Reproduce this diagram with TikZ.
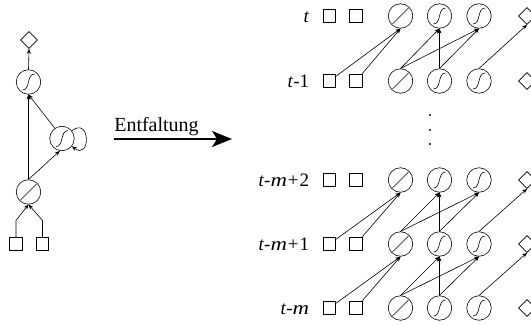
\documentclass[tikz,border=0pt]{standalone}
\usepackage{fontspec}
\setmainfont{Liberation Serif}
\usetikzlibrary{arrows.meta}
\usetikzlibrary{shapes.geometric}
\newcommand{\wm}{\scalebox{1.2}[1]{\textit{m}}}

\begin{document}
\begin{tikzpicture}[x=1pt,y=1pt,>={Stealth[length=5pt,width=4pt]},semithick]
	\tikzstyle{unit}=[circle,draw=black,minimum size=24.5pt,inner sep=0pt]
	\tikzstyle{lin}=[unit,path picture={\draw[shift={(path picture bounding box.center)}] (-8pt,-8pt) -- (8pt,8pt);}]
	\tikzstyle{sig}=[unit,path picture={\draw[shift={(path picture bounding box.center)}] (-6pt,-8pt) .. controls (2pt,-8pt) and (-2pt,8pt) .. (6pt,8pt);}]
	\tikzstyle{inp}=[rectangle,draw=black,minimum size=12.5pt,inner sep=0pt]
	\tikzstyle{outp}=[diamond,draw=black,minimum size=17pt,inner sep=0pt]
	\tikzstyle{tlab}=[anchor=base east,inner sep=0pt,font=\fontsize{19}{23}\selectfont]
	\useasboundingbox (0,0) rectangle (531,325);
	\node [outp] (y) at (29,285) {};
	\node [sig] (s) at (28.5,243) {};
	\node [sig] (c) at (62,186.5) {};
	\node [lin] (l) at (28.5,133) {};
	\node [inp] (xa) at (16,81) {};
	\node [inp] (xb) at (42.5,81) {};
	\draw[->] (xa.north) -- ++(0,17) -- (l.south);
	\draw[->] (xb.north) -- ++(0,17) -- (l.south);
	\draw[->] (l.north) -- (s.south);
	\draw[->] (l.north) -- (c.-100);
	\draw[->] (c.125) -- (s.south);
	\draw[->] (s.north) -- (y.south);
	\draw[->] (c.38) .. controls +(38:24) and +(-38:24) .. (c.-38);
	\coordinate (ua) at (114,186);
	\coordinate (ub) at (232,186);
	\draw[line width=2pt,-{Stealth[length=20pt,width=16pt,inset=5pt]}] (ua) -- (ub);
	\node [anchor=base west,inner sep=0pt,font=\fontsize{20}{24}\selectfont] (utxt) at (114,193.5) {Entfaltung};
	\foreach \r/\y in {1/309,2/244,3/145,4/81,5/17}{
	  \node [inp] (xa-\r) at (329.5,\y) {};
	  \node [inp] (xb-\r) at (356,\y) {};
	  \node [lin] (l-\r) at (400.5,\y) {};
	  \node [sig] (ha-\r) at (439.5,\y) {};
	  \node [sig] (hb-\r) at (479,\y) {};
	  \node [outp] (o-\r) at (527,\y) {};
	}
	\node [tlab] (lab-1) at (309.5,303) {\textit{t}};
	\node [tlab] (lab-2) at (309.5,238) {\textit{t}-1};
	\node [tlab] (lab-3) at (309.5,139) {\textit{t}-\wm\kern1pt+\kern1pt2};
	\node [tlab] (lab-4) at (309.5,75) {\textit{t}-\wm\kern1pt+\kern1pt1};
	\node [tlab] (lab-5) at (309.5,11) {\textit{t}-\wm};
	\foreach \a/\b in {2/1,4/3,5/4}{
	  \draw[->] (xa-\a) -- (l-\b.south);
	  \draw[->] (xb-\a) -- (l-\b.south);
	  \draw[->] (l-\a.north) -- (ha-\b.south);
	  \draw[->] (l-\a.north) -- (hb-\b.south);
	  \draw[->] (ha-\a.north) -- (ha-\b.south);
	  \draw[->] (ha-\a.north) -- (hb-\b.south);
	  \draw[->] (hb-\a.north) -- (o-\b.south);
	}
	\foreach \d in {181,195,210}
	  \fill (430,\d) circle (1.2pt);
\end{tikzpicture}
\end{document}
